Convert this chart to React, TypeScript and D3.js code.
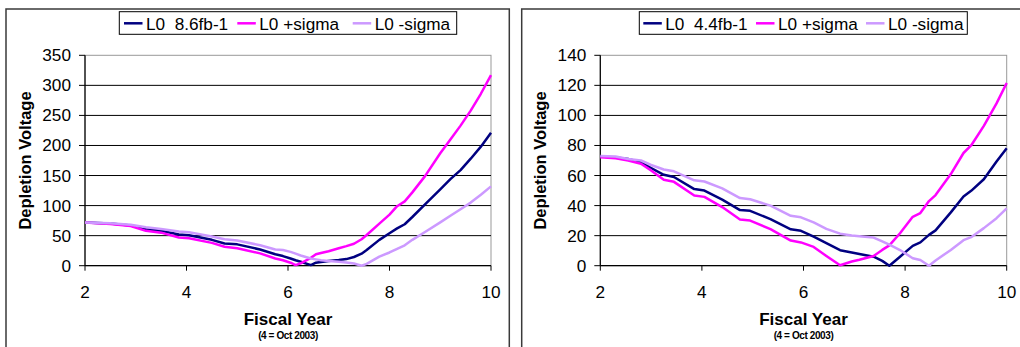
import * as d3 from "d3";

const FONT = "'Liberation Sans', Arial, sans-serif";
const NAVY = "#000080";
const MAGENTA = "#ff00ff";
const LILAC = "#cc99ff";

// left panel: 8.6 fb-1
const yearsA = [2, 2.5, 2.9, 3.2, 3.5, 3.85, 4.05, 4.5, 4.75, 5.0, 5.45, 5.75, 5.9, 6.05, 6.15, 6.25, 6.45, 6.55, 6.65, 6.8, 7.0, 7.15, 7.3, 7.45, 7.55, 7.8, 8.0, 8.15, 8.3, 8.45, 8.7, 9.0, 9.2, 9.4, 9.6, 9.8, 10];
const nominalA = [72, 70, 67, 60.5, 58, 52, 50.5, 43, 37, 35.5, 27, 19, 16, 12, 9, 6.5, 1, 5, 6, 8, 9.5, 11, 14.5, 20, 26, 43, 54, 62, 69, 81, 102, 127, 144, 159, 178, 198, 221];
const plusA = [72, 69.5, 66, 58, 55, 47, 45.5, 38, 31.5, 29, 20.5, 12, 9, 5, 1, 4, 13, 19, 21, 24, 29, 32.5, 36.5, 44, 51, 70, 85, 99, 107, 122, 149, 187, 210, 233, 258, 286, 317];
const minusA = [72, 70.5, 68, 64, 61, 57, 55.5, 48.5, 44, 42, 34, 27, 26, 23, 20, 17, 12, 10.5, 9, 8, 6.7, 5.5, 3.7, 0, 3, 15, 22, 28, 34, 43, 56, 72, 83, 94, 105, 118, 132];

// right panel: 4.4 fb-1
const yearsB = [2, 2.3, 2.55, 2.8, 3.0, 3.25, 3.45, 3.85, 4.05, 4.4, 4.75, 4.95, 5.35, 5.75, 5.95, 6.2, 6.45, 6.72, 6.95, 7.1, 7.38, 7.55, 7.69, 7.9, 8.15, 8.3, 8.47, 8.6, 8.9, 9.15, 9.3, 9.55, 9.8, 10];
const nominalB = [72.7, 72, 71, 68.7, 65, 60.5, 59, 51, 50, 44, 37, 36.5, 31, 24.2, 23.2, 19.3, 15, 10.3, 8.8, 7.8, 6, 3.2, 0, 6, 13.2, 15.5, 20.5, 23.5, 35.5, 46, 49.8, 57.5, 69.4, 78.2];
const plusB = [72.2, 71.5, 70, 67.8, 63.4, 57.2, 55.8, 46.7, 45.8, 39, 30.8, 30, 24.3, 16.7, 15.5, 12.5, 6.5, 0.3, 2.8, 4, 6.5, 10.5, 13.5, 21.6, 32.5, 35, 43, 47, 61, 75, 80, 93, 108, 121.6];
const minusB = [73, 72.7, 71, 70, 67, 64, 62.8, 56.8, 56, 51.5, 45, 44.2, 40, 33.2, 32.2, 28.8, 24.5, 21.3, 20.1, 19.6, 18.7, 16.2, 14, 10.4, 5, 3.8, 0, 3.5, 10.5, 17, 19, 25, 31.6, 38.2];

const xTicks = [2, 4, 6, 8, 10];
const yTicksA = [0, 50, 100, 150, 200, 250, 300, 350];
const yTicksB = [0, 20, 40, 60, 80, 100, 120, 140];
const legendA = ["L0  8.6fb-1", "L0 +sigma", "L0 -sigma"];
const legendB = ["L0  4.4fb-1", "L0 +sigma", "L0 -sigma"];

type PanelProps = {
  frameX: number;
  frameW: number;
  left: number;
  right: number;
  years: number[];
  series: number[][];
  yTicks: number[];
  labels: string[];
  legendX: number;
  legendW: number;
  legendOffsets: number[];
};

function Panel(p: PanelProps) {
  const top = 55.3;
  const bottom = 265.7;
  const x = d3.scaleLinear([2, 10], [p.left, p.right]);
  const y = d3.scaleLinear([0, p.yTicks[p.yTicks.length - 1]], [bottom, top]);
  const colors = [NAVY, MAGENTA, LILAC];
  const line = d3.line<number>().x((_, i) => x(p.years[i])).y(v => y(v));
  const mid = (p.left + p.right) / 2;
  const midY = (top + bottom) / 2;
  return (
    <g>
      <rect x={p.frameX} y={9} width={p.frameW} height={360} fill="#fff" stroke="#3a3a3a" strokeWidth={1.5} />
      <rect x={p.left} y={top} width={p.right - p.left} height={bottom - top} fill="none" stroke="#999" strokeWidth={1} />
      {p.yTicks.slice(1, -1).map(t => (
        <line key={t} x1={p.left} x2={p.right} y1={y(t)} y2={y(t)} stroke="#000" strokeWidth={1} />
      ))}
      <line x1={p.left} x2={p.left} y1={top} y2={bottom} stroke="#000" strokeWidth={1.2} />
      <line x1={p.left} x2={p.right} y1={bottom} y2={bottom} stroke="#000" strokeWidth={1.2} />
      {p.yTicks.map(t => (
        <g key={t}>
          <line x1={p.left - 6} x2={p.left} y1={y(t)} y2={y(t)} stroke="#000" />
          <text x={p.left - 14} y={y(t) + 6} textAnchor="end" fontSize={17.2} fontFamily={FONT}>{t}</text>
        </g>
      ))}
      {xTicks.map(t => (
        <g key={t}>
          <line x1={x(t)} x2={x(t)} y1={bottom} y2={bottom + 5} stroke="#000" />
          <text x={x(t)} y={297.7} textAnchor="middle" fontSize={17.2} fontFamily={FONT}>{t}</text>
        </g>
      ))}
      {p.series.map((s, i) => (
        <path key={i} d={line(s) ?? undefined} fill="none" stroke={colors[i]} strokeWidth={2.5} strokeLinejoin="round" />
      ))}
      <text x={mid} y={325} textAnchor="middle" fontSize={17} fontWeight="bold" fontFamily={FONT}>Fiscal Year</text>
      <text x={mid} y={339.3} textAnchor="middle" fontSize={10} fontWeight="bold" letterSpacing={-0.4} fontFamily={FONT}>(4 = Oct 2003)</text>
      <text
        x={p.left - 54}
        y={midY}
        textAnchor="middle"
        fontSize={16.5}
        fontWeight="bold"
        fontFamily={FONT}
        transform={`rotate(-90 ${p.left - 54} ${midY})`}
      >Depletion Voltage</text>
      <rect x={p.legendX} y={11.7} width={p.legendW} height={22.6} fill="#fff" stroke="#000" strokeWidth={1} />
      {p.labels.map((lab, i) => {
        const lx = p.legendX + p.legendOffsets[i];
        return (
          <g key={lab}>
            <line x1={lx} x2={lx + 18.5} y1={23.3} y2={23.3} stroke={colors[i]} strokeWidth={2.5} />
            <text x={lx + 22} y={29.5} fontSize={17.2} fontFamily={FONT} style={{ whiteSpace: "pre" }}>{lab}</text>
          </g>
        );
      })}
    </g>
  );
}

export default function App() {
  return (
    <svg width={1020} height={347} style={{ position: "absolute", left: 0, top: 0, background: "#fff" }}>
      <Panel
        frameX={6}
        frameW={503.3}
        left={85}
        right={491}
        years={yearsA}
        series={[nominalA, plusA, minusA]}
        yTicks={yTicksA}
        labels={legendA}
        legendX={119.3}
        legendW={337.4}
        legendOffsets={[4.7, 118, 233.4]}
      />
      <Panel
        frameX={521.7}
        frameW={520}
        left={600.3}
        right={1006.7}
        years={yearsB}
        series={[nominalB, plusB, minusB]}
        yTicks={yTicksB}
        labels={legendB}
        legendX={639.3}
        legendW={328}
        legendOffsets={[4, 116.7, 226.7]}
      />
    </svg>
  );
}
